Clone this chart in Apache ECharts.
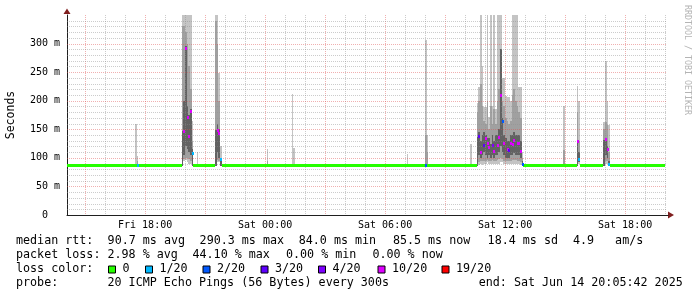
<!DOCTYPE html>
<html><head><meta charset="utf-8">
<script src="https://cdn.jsdelivr.net/npm/echarts@6/dist/echarts.min.js"></script>
<style>html,body{margin:0;padding:0;background:#fff}#c{width:697px;height:297px}</style>
</head><body><div id="c"></div>
<script>
// ---------------- DATA ----------------
// x unit: hours since Fri 00:00 ; one data step = 5 minutes (slot)
const xStartHour = 14.095, xEndHour = 44.095;
const xTickHours  = [18, 24, 30, 36, 42];
const xTickLabels = ['Fri 18:00', 'Sat 00:00', 'Sat 06:00', 'Sat 12:00', 'Sat 18:00'];
const yTickValues = [0, 50, 100, 150, 200, 250, 300, 350];
const yTickLabels = ['0  ', '50 m', '100 m', '150 m', '200 m', '250 m', '300 m', ''];

// steps that show smoke / a non-zero-loss median (5-min slots since Fri 00:00)
const stepSlot = [210,211, 238,239,240,241,242,243,244, 247, 258,259,260,261, 289, 304,305, 373, 384,385, 411,
  415,416,417,418,419,420,421,422,423,424,425,426,427,428,429,430,431,432,433,434,435,436,437,438,439,440,441,442,
  467, 475,476, 491,492,493,494];
// smoke: outer (min..max), middle and inner ping-quantile bands, in ms
const outLo = [86,86, 86,95,96,92,90,90,88, 88, 86,92,92,86, 86, 86,86, 86, 86,86, 86,
  86,88,90,88,90,90,92,90,90,90,90,90,90,90,92,92,90,90,90,90,90,90,90,90,90,90,88,86,
  86, 86,90, 86,90,90,86];
const outHi = [160,104, 360,360,360,360,360,360,165, 111, 360,360,248,120, 115, 212,117, 107, 306,140, 124,
  196,224,360,260,189,189,360,171,360,191,360,185,360,360,360,240,240,208,207,207,200,360,360,360,360,224,224,110,
  191, 226,200, 163,269,200,157];
const midLo = [null,86, 86,98,100,100,98,95,90, null, 86,96,95,86, 86, null,null, null, 86,86, null,
  86,92,95,95,95,95,96,95,95,96,95,95,96,98,100,98,95,95,95,95,95,96,96,96,95,95,92,86,
  86, 86,92, 86,95,95,86];
const midHi = [null,95, 330,330,320,300,260,220,130, null, 340,300,200,100, 95, null,null, null, 140,110, null,
  180,200,230,190,165,160,200,150,190,160,185,160,200,220,290,200,190,170,165,160,165,210,220,200,190,180,170,100,
  114, 180,130, 150,163,157,110];
const inLo = [null,null, 86,105,120,115,110,105,86, null, 86,110,100,86, null, null,null, null, null,null, null,
  86,105,100,105,110,105,100,105,100,105,100,105,105,110,120,110,105,100,100,100,105,105,108,105,105,105,100,86,
  null, 86,92, 86,105,100,86];
const inHi = [null,null, 147,200,295,190,175,185,115, null, 149,160,150,98, null, null,null, null, null,null, null,
  137,145,130,140,145,140,135,135,125,140,130,140,140,150,290,170,140,135,130,130,140,140,145,140,140,140,130,95,
  null, 128,110, 131,135,120,95];
// median rtt (ms) and lost pings (of 20) for those steps
const medianMs = [null,86, null,145,290,170,137,180,107, null, null,147,142,96, null, null,null, null, 86,null, null,
  null,137,108,null,121,133,125,117,null,120,111,null,121,134,208,162,125,null,114,112,124,122,129,null,125,124,111,88,
  null, 128,96, null,131,114,87];
const lossPings = [null,1, null,10,10,10,10,10,1, null, null,10,10,1, null, null,null, null, 2,null, null,
  null,3,10,null,3,10,10,10,null,4,10,null,10,10,10,2,10,null,10,3,10,10,10,null,10,10,10,2,
  null, 10,1, null,10,10,1];
// zero-loss median (green) stretches, in slots, and its level in ms
const greenFromSlot = [169.14, 212, 245, 262, 385, 443, 477, 495];
const greenToSlot   = [211, 238, 258, 384, 415, 475, 491, 528];
const greenMedianMs = [85.6, 85.6, 85.6, 85.6, 85.6, 85.6, 85.6, 85.6];

// legend
const lossLevels = [0, 1, 2, 3, 4, 10, 19];
const lossLabels = ['0', '1/20', '2/20', '3/20', '4/20', '10/20', '19/20'];
const lossColors = ['#26ff00', '#00b8ff', '#0059ff', '#5e00ff', '#7e00ff', '#dd00ff', '#ff0000'];
const rttStats  = ['90.7 ms avg', '290.3 ms max', '84.0 ms min', '85.5 ms now', '18.4 ms sd', '4.9   am/s'];
const lossStats = ['2.98 % avg', '44.10 % max', '0.00 % min', '0.00 % now'];
const probeText = '20 ICMP Echo Pings (56 Bytes) every 300s';
const endText = 'end: Sat Jun 14 20:05:42 2025';

// ---------------- RENDER ----------------
const STEP_H = 5 / 60;
const slotH = s => s * STEP_H;
const MONO = '"DejaVu Sans Mono", monospace';
const lossColor = L => lossColors[lossLevels.indexOf(L)] || '#000';

function bandData(lo, hi) {
  const d = [];
  stepSlot.forEach((s, i) => { if (lo[i] != null && hi[i] != null) d.push([slotH(s), lo[i], hi[i]]); });
  return d;
}
function bandRender(color) {
  return function (params, api) {
    const t = api.value(0), lo = api.value(1), hi = api.value(2);
    const a = api.coord([t, hi]), b = api.coord([t + STEP_H, lo]);
    const cs = params.coordSys;
    const x1 = Math.round(a[0]), x2 = Math.round(b[0]);
    const y1 = Math.round(Math.max(a[1], cs.y)), y2 = Math.round(Math.min(b[1], cs.y + cs.height));
    return { type: 'rect', shape: { x: x1, y: y1, width: Math.max(1, x2 - x1), height: y2 - y1 }, style: { fill: color } };
  };
}
const medData = [];
stepSlot.forEach((s, i) => { if (medianMs[i] != null) medData.push([slotH(s), medianMs[i], lossPings[i]]); });
const greenData = greenFromSlot.map((f, i) => [slotH(f), slotH(greenToSlot[i]), greenMedianMs[i]]);

const vGrid = []; for (let h = Math.ceil(xStartHour); h <= Math.floor(xEndHour); h++) vGrid.push([h, h % 3 === 0 ? 1 : 0]);
const hGrid = []; for (let v = 10; v < 350; v += 10) hGrid.push([v, v % 50 === 0 ? 1 : 0]);
const GRID_GRAY = 'rgba(143,143,143,0.45)', GRID_RED = 'rgba(222,79,79,0.45)';

const chart = echarts.init(document.getElementById('c'), null, { renderer: 'canvas' });

const legendY = [241, 255, 269, 283];
const rttX = [107.6, 199.6, 298.7, 392.9, 487.6, 572.9];
const lossX = [107.5, 192.5, 286, 372.4];
const sqX = [108.5, 145.5, 203, 261, 318.5, 378, 442];
const txt = (text, x, y, extra) => Object.assign({ type: 'text', x: x, y: y, silent: true,
  style: { text: text, font: '11.7px ' + MONO, fill: '#000', textVerticalAlign: 'middle' } }, extra || {});
const graphics = [];
graphics.push(txt('median rtt:', 16, legendY[0]));
rttStats.forEach((s, i) => graphics.push(txt(s, rttX[i], legendY[0])));
graphics.push(txt('packet loss:', 16, legendY[1]));
lossStats.forEach((s, i) => graphics.push(txt(s, lossX[i], legendY[1])));
graphics.push(txt('loss color:', 16, legendY[2]));
lossLabels.forEach((s, i) => {
  graphics.push({ type: 'rect', silent: true, shape: { x: sqX[i], y: legendY[2] - 3, width: 7, height: 7 },
    style: { fill: lossColors[i], stroke: '#000', lineWidth: 1 } });
  graphics.push(txt(s, sqX[i] + 14, legendY[2]));
});
graphics.push(txt('probe:', 16, legendY[3]));
graphics.push(txt(probeText, 107.5, legendY[3]));
graphics.push(txt(endText, 478.7, legendY[3]));
// watermark
graphics.push({ type: 'text', x: 687.5, y: 60, rotation: -Math.PI / 2, silent: true,
  style: { text: 'RRDTOOL / TOBI OETIKER', font: '8.3px ' + MONO, fill: '#b4b4b4', textAlign: 'center', textVerticalAlign: 'middle' } });
// axis arrows
graphics.push({ type: 'polygon', silent: true, shape: { points: [[63.5, 14], [67, 8.5], [70.5, 14]] }, style: { fill: '#801f1f' } });
graphics.push({ type: 'polygon', silent: true, shape: { points: [[668, 211.5], [674, 215], [668, 218.5]] }, style: { fill: '#801f1f' } });
graphics.push({ type: 'line', silent: true, shape: { x1: 667, y1: 215.5, x2: 668.5, y2: 215.5 }, style: { stroke: '#1f1f1f', lineWidth: 1 } });

chart.setOption({
  animation: false,
  backgroundColor: '#fff',
  grid: { left: 67, top: 15, width: 600, height: 200, containLabel: false, outerBoundsMode: 'none' },
  xAxis: {
    type: 'value', min: xStartHour, max: xEndHour,
    axisLine: { show: true, lineStyle: { color: '#1f1f1f', width: 1 } },
    axisTick: { show: false }, splitLine: { show: false },
    axisLabel: {
      customValues: xTickHours, margin: 5, color: '#000', fontFamily: MONO, fontSize: 10,
      formatter: v => xTickLabels[xTickHours.indexOf(Math.round(v))] || ''
    }
  },
  yAxis: {
    type: 'value', min: 0, max: 350, interval: 50,
    name: 'Seconds', nameLocation: 'middle', nameGap: 50, nameRotate: 90,
    nameTextStyle: { fontFamily: MONO, fontSize: 11.5, color: '#000' },
    axisLine: { show: true, lineStyle: { color: '#1f1f1f', width: 1 } },
    axisTick: { show: false }, splitLine: { show: false },
    axisLabel: { margin: 7, color: '#000', fontFamily: MONO, fontSize: 10,
      formatter: v => yTickLabels[yTickValues.indexOf(Math.round(v))] || '' }
  },
  graphic: graphics,
  series: [
    { type: 'custom', name: 'smoke-outer', z: 2, silent: true, data: bandData(outLo, outHi), renderItem: bandRender('#c4c4c4') },
    { type: 'custom', name: 'smoke-mid', z: 2, silent: true, data: bandData(midLo, midHi), renderItem: bandRender('#a0a0a0') },
    { type: 'custom', name: 'smoke-inner', z: 2, silent: true, data: bandData(inLo, inHi), renderItem: bandRender('#626262') },
    { type: 'custom', name: 'vgrid', z: 3, silent: true, data: vGrid,
      renderItem: (params, api) => {
        const cs = params.coordSys; const p = api.coord([api.value(0), 0]); const x = Math.round(p[0]) + 0.5;
        return { type: 'line', shape: { x1: x, y1: cs.y, x2: x, y2: cs.y + cs.height },
          style: { stroke: api.value(1) ? GRID_RED : GRID_GRAY, lineWidth: 1, lineDash: [1, 1] } };
      } },
    { type: 'custom', name: 'hgrid', z: 3, silent: true, data: hGrid,
      renderItem: (params, api) => {
        const cs = params.coordSys; const p = api.coord([xStartHour, api.value(0)]); const y = Math.round(p[1]) + 0.5;
        return { type: 'line', shape: { x1: cs.x, y1: y, x2: cs.x + cs.width, y2: y },
          style: { stroke: api.value(1) ? GRID_RED : GRID_GRAY, lineWidth: 1, lineDash: [1, 1] } };
      } },
    { type: 'custom', name: 'median-0', z: 4, silent: true, data: greenData,
      renderItem: (params, api) => {
        const a = api.coord([api.value(0), api.value(2)]), b = api.coord([api.value(1), api.value(2)]);
        const yc = Math.round(a[1]);
        return { type: 'rect', shape: { x: Math.round(a[0]), y: yc - 2, width: Math.round(b[0]) - Math.round(a[0]), height: 3 },
          style: { fill: lossColors[0] } };
      } },
    { type: 'custom', name: 'median', z: 5, silent: true, data: medData,
      renderItem: (params, api) => {
        const t = api.value(0), v = api.value(1), L = api.value(2);
        const a = api.coord([t, v]), b = api.coord([t + STEP_H, v]);
        const x1 = Math.round(a[0]), x2 = Math.round(b[0]); const yc = Math.round(a[1]);
        return { type: 'rect', shape: { x: x1, y: yc - 2, width: Math.max(2, x2 - x1), height: 3 }, style: { fill: lossColor(L) } };
      } }
  ]
});
</script>
</body></html>
